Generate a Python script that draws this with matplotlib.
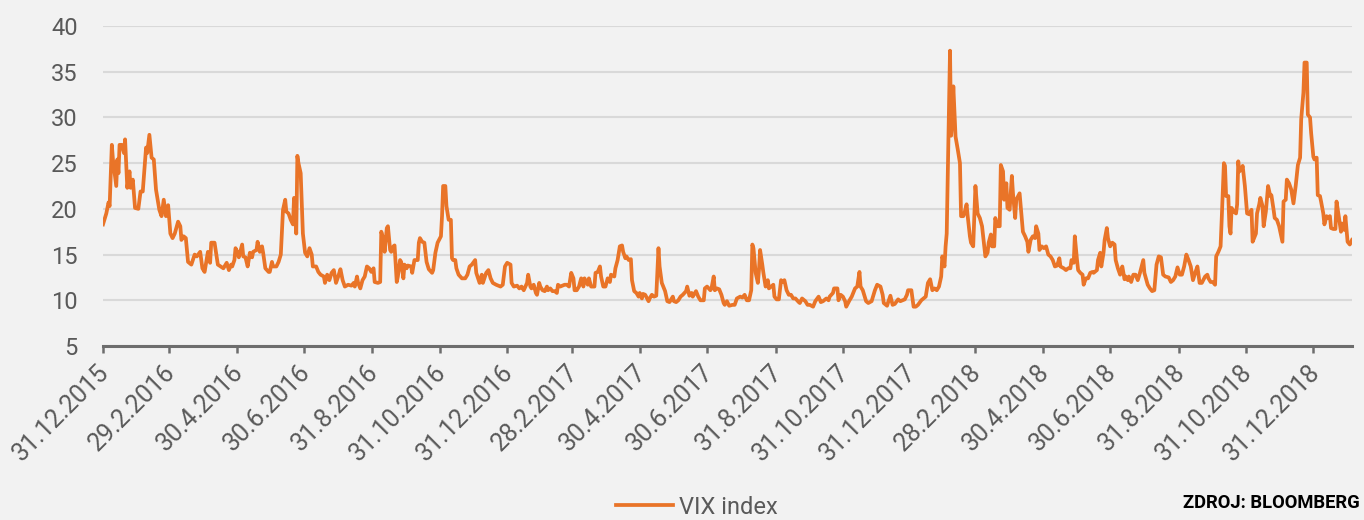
import numpy as np
import matplotlib
matplotlib.use("Agg")
import matplotlib.pyplot as plt
from matplotlib.transforms import ScaledTranslation
from datetime import datetime

plt.rcParams['font.family'] = ['Roboto', 'DejaVu Sans']

# ---------------- data ----------------
start_date = "2015-12-31"

days_from_start = [
    0, 3, 5, 6, 8, 9, 12, 13, 14, 15,
    17, 19, 20, 22, 24, 25, 27, 29, 32, 34,
    36, 39, 40, 42, 44, 46, 48, 51, 53, 55,
    57, 59, 61, 63, 65, 68, 70, 71, 73, 75,
    77, 80, 83, 85, 88, 90, 92, 95, 97, 98,
    101, 104, 109, 112, 114, 116, 117, 119, 120, 122,
    123, 126, 127, 129, 131, 133, 135, 136, 139, 140,
    142, 144, 145, 147, 150, 151, 153, 154, 157, 159,
    161, 163, 165, 166, 168, 170, 172, 173, 175, 176,
    177, 179, 181, 183, 185, 187, 189, 190, 193, 195,
    197, 200, 201, 203, 205, 207, 209, 211, 213, 215,
    217, 219, 222, 225, 227, 228, 230, 231, 233, 235,
    237, 239, 241, 243, 245, 246, 249, 251, 252, 254,
    255, 257, 258, 260, 261, 263, 264, 266, 267, 269,
    270, 272, 273, 275, 276, 279, 280, 282, 285, 286,
    287, 289, 291, 293, 295, 298, 299, 301, 303, 306,
    307, 308, 310, 311, 313, 315, 316, 317, 319, 320,
    322, 325, 328, 330, 332, 334, 337, 338, 341, 343,
    344, 347, 349, 351, 353, 356, 360, 362, 364, 366,
    369, 370, 372, 375, 377, 379, 381, 384, 385, 387,
    388, 390, 392, 393, 395, 396, 398, 400, 402, 403,
    405, 407, 409, 411, 412, 414, 416, 418, 420, 422,
    424, 426, 427, 429, 431, 433, 435, 436, 439, 440,
    442, 445, 446, 448, 450, 451, 453, 455, 457, 459,
    460, 463, 464, 466, 468, 470, 471, 473, 474, 476,
    478, 479, 481, 483, 485, 486, 488, 489, 491, 494,
    495, 497, 499, 501, 503, 504, 506, 509, 511, 513,
    516, 517, 519, 521, 523, 525, 528, 529, 531, 533,
    534, 537, 539, 541, 544, 545, 547, 550, 551, 553,
    554, 556, 558, 560, 562, 563, 565, 567, 570, 572,
    574, 577, 579, 581, 583, 585, 587, 588, 589, 591,
    593, 594, 595, 597, 598, 600, 602, 603, 605, 607,
    608, 610, 612, 614, 615, 617, 619, 621, 623, 625,
    627, 630, 631, 633, 636, 638, 640, 643, 645, 648,
    650, 652, 655, 657, 658, 661, 662, 665, 666, 668,
    670, 672, 673, 676, 678, 681, 683, 685, 686, 688,
    691, 693, 696, 699, 701, 704, 706, 707, 710, 711,
    713, 715, 717, 720, 722, 724, 726, 728, 729, 732,
    734, 736, 738, 741, 743, 745, 747, 749, 751, 753,
    755, 757, 759, 760, 762, 763, 764, 767, 768, 769,
    770, 772, 774, 776, 777, 779, 780, 782, 783, 785,
    786, 788, 790, 792, 794, 796, 799, 801, 802, 804,
    805, 807, 808, 810, 812, 813, 815, 816, 818, 819,
    821, 823, 824, 826, 827, 830, 831, 833, 835, 837,
    838, 840, 842, 844, 845, 847, 848, 850, 852, 854,
    856, 858, 860, 862, 864, 866, 867, 870, 872, 874,
    876, 877, 879, 880, 882, 883, 885, 887, 888, 890,
    892, 894, 896, 897, 900, 901, 903, 904, 906, 907,
    909, 910, 912, 914, 916, 917, 919, 921, 923, 925,
    926, 928, 929, 931, 933, 935, 937, 939, 942, 943,
    946, 948, 950, 952, 954, 956, 958, 960, 962, 965,
    967, 969, 971, 973, 975, 977, 979, 981, 983, 985,
    987, 989, 991, 993, 995, 998, 1000, 1001, 1003, 1005,
    1007, 1008, 1010, 1012, 1013, 1015, 1016, 1017, 1019, 1020,
    1021, 1022, 1024, 1026, 1027, 1028, 1029, 1031, 1032, 1034,
    1036, 1038, 1040, 1041, 1044, 1045, 1047, 1048, 1050, 1051,
    1053, 1055, 1057, 1058, 1060, 1061, 1063, 1065, 1067, 1068,
    1069, 1071, 1072, 1074, 1076, 1078, 1080, 1082, 1084, 1085,
    1087, 1088, 1090, 1091, 1093, 1094, 1096, 1097, 1099, 1100,
    1102, 1103, 1105, 1106, 1108, 1109, 1111, 1112, 1114, 1116,
    1117, 1119, 1121, 1122, 1124, 1125, 1127, 1129, 1131,
]

vix_values = [
    18.3, 19.5, 20.7, 20.3, 27.0, 25.4, 22.5, 25.4, 23.9, 27.0,
    27.0, 26.1, 27.6, 22.3, 24.1, 22.3, 23.2, 20.1, 20.0, 21.9,
    21.9, 26.7, 26.1, 28.1, 25.6, 25.4, 22.1, 19.9, 19.2, 21.0,
    19.2, 20.4, 17.3, 16.8, 17.3, 18.6, 18.1, 16.6, 17.0, 16.8,
    14.2, 13.9, 15.0, 14.8, 15.3, 13.5, 13.1, 15.3, 14.1, 16.3,
    16.3, 13.9, 13.5, 14.1, 13.3, 13.9, 13.7, 14.4, 15.7, 15.2,
    14.7, 16.1, 14.8, 14.7, 13.7, 15.2, 14.7, 15.3, 15.5, 16.4,
    15.3, 15.9, 15.2, 13.5, 13.1, 13.1, 14.2, 13.7, 13.7, 14.2,
    15.0, 19.9, 21.0, 19.7, 19.5, 18.8, 18.3, 21.2, 17.3, 25.8,
    25.0, 23.9, 17.3, 15.2, 14.8, 15.7, 15.0, 13.7, 13.7, 13.1,
    12.8, 12.6, 11.9, 12.8, 12.2, 13.0, 13.3, 11.9, 12.6, 13.4,
    12.2, 11.5, 11.7, 11.6, 11.9, 11.5, 12.6, 11.9, 11.3, 12.2,
    12.6, 13.7, 13.5, 13.1, 13.5, 12.0, 11.9, 12.0, 17.5, 16.6,
    15.3, 17.9, 18.1, 15.5, 15.3, 15.9, 16.0, 12.0, 12.6, 14.4,
    14.2, 12.4, 13.9, 13.5, 13.8, 13.7, 13.0, 14.4, 14.4, 16.3,
    16.8, 16.4, 16.3, 14.2, 13.4, 13.0, 13.3, 15.2, 16.3, 17.0,
    19.2, 22.5, 22.5, 20.3, 18.8, 18.8, 14.6, 14.4, 14.4, 13.5,
    12.8, 12.4, 12.4, 12.8, 13.7, 13.9, 14.4, 13.0, 11.9, 12.8,
    11.9, 13.0, 13.3, 12.4, 11.9, 11.7, 11.5, 11.7, 13.7, 14.1,
    13.9, 11.9, 11.5, 11.6, 11.3, 11.5, 11.1, 11.9, 12.8, 11.5,
    11.3, 11.7, 10.8, 10.6, 11.9, 11.5, 11.1, 11.0, 11.5, 11.1,
    11.3, 11.0, 11.0, 10.8, 11.7, 11.5, 11.6, 11.7, 11.7, 11.5,
    13.0, 12.4, 11.1, 11.1, 11.5, 12.4, 11.5, 12.4, 11.7, 12.4,
    11.5, 11.5, 13.0, 13.1, 13.7, 12.6, 11.5, 11.5, 12.4, 12.0,
    12.8, 12.6, 13.5, 14.4, 15.9, 16.0, 15.3, 14.6, 14.8, 14.4,
    14.5, 12.2, 11.0, 10.8, 10.4, 10.8, 10.2, 10.7, 10.6, 9.9,
    10.2, 10.6, 10.4, 10.5, 15.7, 13.7, 11.9, 11.0, 9.9, 9.8,
    10.4, 9.9, 9.8, 10.0, 10.4, 10.6, 11.0, 11.5, 10.5, 10.8,
    10.4, 11.0, 10.4, 10.0, 10.0, 11.3, 11.5, 11.1, 11.3, 12.6,
    11.1, 11.3, 11.2, 10.6, 9.7, 9.5, 9.9, 9.4, 9.5, 9.5,
    10.2, 10.4, 10.3, 10.6, 10.0, 10.0, 11.1, 16.1, 15.7, 13.0,
    11.9, 13.3, 15.5, 13.9, 13.0, 11.5, 12.2, 11.3, 11.5, 11.7,
    10.4, 10.1, 10.1, 12.2, 12.0, 12.2, 11.1, 10.6, 10.6, 10.2,
    10.2, 9.8, 9.7, 10.2, 9.9, 9.5, 9.5, 9.3, 9.9, 10.4,
    9.8, 9.9, 10.2, 10.0, 10.4, 10.8, 11.3, 11.3, 10.0, 10.6,
    10.4, 9.9, 9.3, 10.0, 10.4, 11.3, 11.5, 13.1, 11.5, 11.1,
    9.9, 9.7, 9.9, 11.1, 11.7, 11.5, 10.6, 9.7, 9.4, 9.8,
    10.5, 9.5, 9.6, 10.1, 9.9, 10.0, 10.1, 10.6, 11.1, 11.1,
    9.3, 9.3, 9.5, 10.0, 10.2, 10.4, 11.9, 12.3, 11.1, 11.3,
    11.1, 11.5, 12.6, 14.8, 13.7, 15.9, 17.3, 37.3, 28.0, 29.8,
    33.4, 27.9, 26.5, 25.0, 19.2, 19.2, 19.5, 20.5, 19.2, 17.0,
    16.3, 15.9, 22.5, 19.5, 19.0, 18.1, 14.8, 15.2, 16.3, 17.2,
    15.9, 15.9, 19.0, 18.1, 18.1, 24.8, 24.1, 21.0, 22.8, 20.1,
    19.9, 23.6, 21.7, 19.0, 21.0, 21.7, 20.3, 17.5, 17.0, 16.4,
    15.3, 16.6, 17.0, 16.8, 18.1, 17.3, 15.5, 15.9, 15.7, 15.9,
    15.0, 14.8, 14.4, 13.7, 13.8, 14.6, 13.7, 13.5, 13.3, 13.5,
    13.5, 14.4, 14.1, 17.0, 14.4, 13.3, 13.0, 12.8, 11.7, 12.4,
    12.4, 13.0, 13.1, 13.0, 13.3, 14.4, 15.2, 13.7, 15.2, 16.6,
    17.9, 16.8, 15.9, 16.3, 16.1, 14.4, 13.5, 12.8, 13.7, 12.3,
    12.6, 12.2, 12.6, 12.0, 12.8, 12.8, 12.2, 13.0, 14.4, 13.0,
    11.7, 11.3, 11.0, 11.1, 13.9, 14.8, 14.7, 12.8, 12.6, 12.5,
    12.0, 12.2, 12.6, 13.6, 12.8, 12.8, 13.7, 15.0, 14.4, 13.7,
    12.2, 13.0, 13.7, 11.9, 11.9, 12.6, 12.8, 12.4, 12.0, 12.0,
    11.7, 14.8, 15.3, 15.9, 18.8, 25.0, 24.7, 21.4, 21.4, 18.1,
    17.3, 20.1, 19.7, 19.5, 20.5, 25.2, 24.1, 24.3, 24.7, 22.5,
    19.5, 19.4, 19.9, 16.4, 17.3, 19.5, 20.5, 21.2, 20.3, 18.1,
    19.7, 22.5, 21.4, 21.5, 19.9, 19.0, 18.8, 18.1, 17.0, 16.4,
    20.8, 21.0, 23.2, 22.8, 22.1, 20.6, 22.5, 24.8, 25.6, 29.8,
    32.7, 36.0, 36.0, 30.3, 30.0, 28.3, 25.7, 25.4, 25.6, 21.5,
    21.4, 20.8, 19.5, 18.3, 19.2, 19.0, 19.2, 17.9, 17.8, 17.8,
    20.8, 19.2, 17.5, 18.4, 17.7, 19.2, 16.4, 16.1, 16.6,
]

tick_labels = [
    "31.12.2015", "29.2.2016", "30.4.2016", "30.6.2016", "31.8.2016",
    "31.10.2016", "31.12.2016", "28.2.2017", "30.4.2017", "30.6.2017",
    "31.8.2017", "31.10.2017", "31.12.2017", "28.2.2018", "30.4.2018",
    "30.6.2018", "31.8.2018", "31.10.2018", "31.12.2018",
]
y_ticks = [5, 10, 15, 20, 25, 30, 35, 40]
series_name = "VIX index"
source_note = "ZDROJ: BLOOMBERG"

# ---------------- drawing ----------------
dates = np.datetime64(start_date) + np.array(days_from_start, dtype="timedelta64[D]")
tick_dates = [np.datetime64(datetime.strptime(s, "%d.%m.%Y").date()) for s in tick_labels]

BG = "#f2f2f2"
LINE = "#e97428"
TXT = "#595959"
AXC = "#6d6d6d"

fig = plt.figure(figsize=(13.64, 5.2), dpi=100, facecolor=BG)
ax = fig.add_axes([103 / 1364, 1 - 346 / 520, (1352 - 103) / 1364, (346 - 26) / 520])
ax.set_facecolor(BG)

ax.plot(dates, vix_values, color=LINE, lw=2.7, solid_joinstyle="round",
        label=series_name, zorder=3)

ax.set_ylim(5, 40)
ax.set_yticks(y_ticks)
ax.set_xlim(dates[0], dates[-1])
ax.set_xticks(tick_dates)
ax.set_xticklabels(tick_labels, rotation=45, ha="right", va="top",
                   rotation_mode="anchor")

ax.grid(axis="y", color="#d9d9d9", lw=1.5)
ax.set_axisbelow(True)
for s in ["top", "left", "right"]:
    ax.spines[s].set_visible(False)
ax.spines["bottom"].set_color(AXC)
ax.spines["bottom"].set_linewidth(2.2)

ax.tick_params(axis="y", length=0, pad=18, labelsize=17, labelcolor=TXT)
ax.tick_params(axis="x", length=5, width=1.8, color=AXC, pad=5,
               labelsize=18, labelcolor=TXT)
offset = ScaledTranslation(-6 / 100, 0, fig.dpi_scale_trans)
for lbl in ax.get_xticklabels():
    lbl.set_transform(lbl.get_transform() + offset)

fig.legend(loc="center", bbox_to_anchor=(697 / 1364, 1 - 507 / 520),
           frameon=False, fontsize=17, labelcolor=TXT,
           handlelength=2.4, handletextpad=0.25)

fig.text(1183 / 1364, 1 - 503 / 520, source_note, fontsize=13.2,
         fontweight="bold", color="black", va="center", ha="left")

fig.savefig("out.png", dpi=100, facecolor=BG)
